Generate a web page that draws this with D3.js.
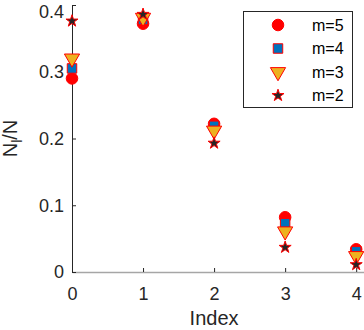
<!DOCTYPE html>
<html>
<head>
<meta charset="utf-8">
<script src="https://cdn.jsdelivr.net/npm/d3@7"></script>
<style>
  body { margin: 0; background: #fff; }
  svg { font-family: "Liberation Sans", Arial, sans-serif; }
</style>
</head>
<body>
<div id="chart"></div>
<script>
// values
const indices = [0, 1, 2, 3, 4];
const m5 = [0.290, 0.372, 0.222, 0.082, 0.034];
const m4 = [0.305, 0.378, 0.219, 0.073, 0.031];
const m3 = [0.320, 0.381, 0.212, 0.061, 0.024];
const m2 = [0.376, 0.386, 0.193, 0.037, 0.011];
const yTicks = [0, 0.1, 0.2, 0.3, 0.4];
const seriesNames = ['m=5', 'm=4', 'm=3', 'm=2'];

const width = 364, height = 330;

const svg = d3.select('#chart').append('svg')
    .attr('width', width)
    .attr('height', height);

// x axis runs a little past the last index, to the right edge
const x = d3.scaleLinear().domain([0, 4.11]).range([72, 364]);
const y = d3.scaleLinear().domain([0, 0.4]).range([272, 5]);

// bottom axis
const xAxis = svg.append('g')
    .attr('transform', `translate(0,${y(0)})`)
    .call(d3.axisBottom(x).tickValues(indices).tickFormat(d3.format('d'))
        .tickSizeInner(-4).tickSizeOuter(0).tickPadding(15));
xAxis.select('.domain').attr('stroke', '#a6a6a6').attr('stroke-width', 1.5);
xAxis.selectAll('line').attr('stroke', '#262626');
xAxis.selectAll('text').attr('fill', '#262626').attr('font-size', '18px');

// left axis
const yAxis = svg.append('g')
    .attr('transform', `translate(${x(0)},0)`)
    .call(d3.axisLeft(y).tickValues(yTicks).tickFormat(d => d === 0 ? '0' : d3.format('.1f')(d))
        .tickSizeInner(-4).tickSizeOuter(0).tickPadding(8));
yAxis.select('.domain').attr('stroke', '#262626');
yAxis.selectAll('line').attr('stroke', '#262626');
yAxis.selectAll('text').attr('fill', '#262626').attr('font-size', '18px');
// keep the top label inside the page
yAxis.selectAll('.tick text').filter(d => d === 0.4).attr('dy', '0.7em');

// axis titles
svg.append('text')
    .attr('x', x(2))
    .attr('y', 325)
    .attr('text-anchor', 'middle')
    .attr('fill', '#262626')
    .attr('font-size', '20px')
    .text('Index');

const yl = svg.append('text')
    .attr('transform', `translate(17,${y(0.2)}) rotate(-90)`)
    .attr('text-anchor', 'middle')
    .attr('fill', '#262626')
    .attr('font-size', '20px');
yl.append('tspan').text('N');
yl.append('tspan').attr('font-size', '14px').attr('dy', 5).text('l');
yl.append('tspan').attr('dy', -5).text('/N');

// marker styles
const styles = [
    { sym: d3.symbolCircle, size: 105, fill: '#ff0000', stroke: '#ff0000', rot: 0 },
    { sym: d3.symbolSquare, size: 90, fill: '#0072bd', stroke: '#ff0000', rot: 0 },
    { sym: d3.symbolTriangle, size: 100, fill: '#edb120', stroke: '#ff0000', rot: 180 },
    { sym: d3.symbolStar, size: 45, fill: '#262626', stroke: '#ff0000', rot: 0 }
];
const allSeries = [m5, m4, m3, m2];

allSeries.forEach((vals, k) => {
    const st = styles[k];
    svg.append('g').selectAll('path')
        .data(vals)
        .join('path')
        .attr('d', d3.symbol().type(st.sym).size(st.size))
        .attr('transform', (d, i) => `translate(${x(indices[i])},${y(d)}) rotate(${st.rot})`)
        .attr('fill', st.fill)
        .attr('stroke', st.stroke)
        .attr('stroke-width', 1);
});

// legend
const legend = svg.append('g');
legend.append('rect')
    .attr('x', 243.5).attr('y', 11.5)
    .attr('width', 109).attr('height', 96)
    .attr('fill', '#fff')
    .attr('stroke', '#262626');

seriesNames.forEach((name, k) => {
    const st = styles[k];
    const ly = 25 + k * 23.5;
    legend.append('path')
        .attr('d', d3.symbol().type(st.sym).size(st.size))
        .attr('transform', `translate(278,${ly}) rotate(${st.rot})`)
        .attr('fill', st.fill)
        .attr('stroke', st.stroke);
    legend.append('text')
        .attr('x', 312)
        .attr('y', ly)
        .attr('dy', '0.35em')
        .attr('fill', '#000')
        .attr('font-size', '16px')
        .text(name);
});
</script>
</body>
</html>
